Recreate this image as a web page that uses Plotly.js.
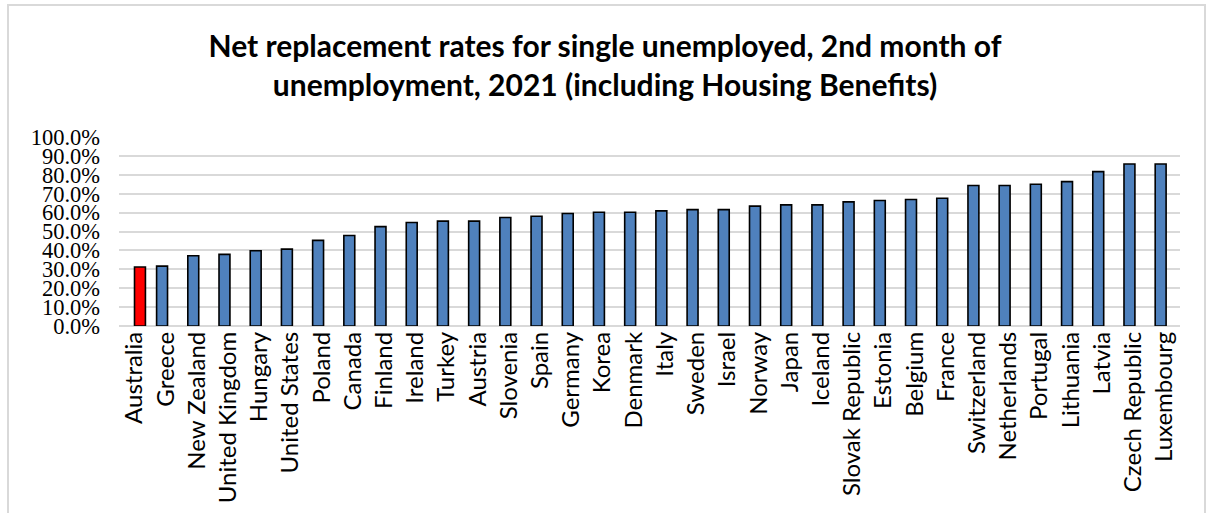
<!DOCTYPE html>
<html>
<head>
<meta charset="utf-8">
<script src="https://cdn.plot.ly/plotly-3.0.1.min.js"></script>
<style>
html,body{margin:0;padding:0;background:#fff;}
#wrap{position:relative;width:1210px;height:513px;}
#chart{width:1210px;height:513px;}
#frame{position:absolute;left:7px;top:4px;width:1199px;height:520px;border:2px solid #d9d9d9;pointer-events:none;box-sizing:border-box;}
</style>
</head>
<body>
<div id="wrap"><div id="chart"></div><div id="frame"></div></div>
<script>
const countries = ["Australia","Greece","New Zealand","United Kingdom","Hungary","United States","Poland","Canada","Finland","Ireland","Turkey","Austria","Slovenia","Spain","Germany","Korea","Denmark","Italy","Sweden","Israel","Norway","Japan","Iceland","Slovak Republic","Estonia","Belgium","France","Switzerland","Netherlands","Portugal","Lithuania","Latvia","Czech Republic","Luxembourg"];
const rates = [0.312,0.317,0.372,0.379,0.398,0.407,0.453,0.479,0.526,0.548,0.555,0.555,0.574,0.581,0.595,0.602,0.602,0.609,0.616,0.616,0.634,0.641,0.641,0.657,0.664,0.669,0.676,0.743,0.743,0.750,0.764,0.817,0.857,0.857];
const highlight = "Australia";
const yTicks = [0,0.1,0.2,0.3,0.4,0.5,0.6,0.7,0.8,0.9,1.0];

const hiX = [], hiY = [], otX = [], otY = [];
countries.forEach((c,i)=>{ if(c===highlight){hiX.push(c);hiY.push(rates[i]);} else {otX.push(c);otY.push(rates[i]);} });

const traces = [
  {type:'bar', x:otX, y:otY, width:0.35, offset:-0.295,
   marker:{color:'#4f81bd', line:{color:'#000000', width:1.6}}, hoverinfo:'skip'},
  {type:'bar', x:hiX, y:hiY, width:0.35, offset:-0.003,
   marker:{color:'#ff0000', line:{color:'#000000', width:1.6}}, hoverinfo:'skip'}
];

const layout = {
  width:1210, height:513,
  margin:{l:119, r:30, t:137, b:187},
  paper_bgcolor:'#ffffff', plot_bgcolor:'#ffffff',
  showlegend:false, barmode:'overlay',
  title:{text:'Net replacement rates for single unemployed, 2nd month of<br>unemployment, 2021 (including Housing Benefits)',
    font:{family:'Lato, "Open Sans", sans-serif', size:30, color:'#000000', weight:700},
    x:0.5, xanchor:'center', xref:'container', y:1-57/513, yanchor:'top', yref:'container'},
  xaxis:{type:'category', categoryorder:'array', categoryarray:countries, range:[-0.5,33.5],
    tickangle:-90, ticks:'', showgrid:false, showline:false, zeroline:false,
    tickfont:{family:'Lato, "Open Sans", sans-serif', size:24, color:'#000000'}},
  yaxis:{range:[0,1], tickvals:yTicks, tickformat:'.1%', ticks:'', ticklabelstandoff:18,
    showgrid:true, gridcolor:'#d9d9d9', gridwidth:2, zeroline:true, zerolinecolor:'#d9d9d9', zerolinewidth:2,
    showline:false,
    tickfont:{family:'"Liberation Serif", "Times New Roman", serif', size:22.5, color:'#000000'}}
};
Plotly.newPlot('chart', traces, layout, {displayModeBar:false, staticPlot:true});
</script>
</body>
</html>
